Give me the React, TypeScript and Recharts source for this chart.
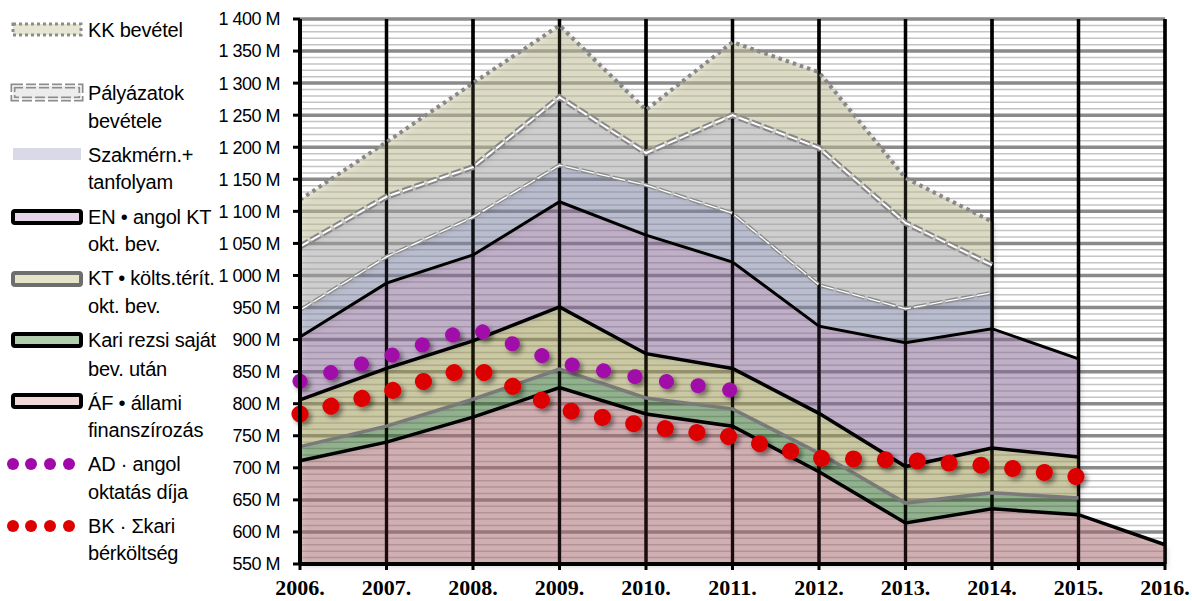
import React from "react";
import { ComposedChart, Area, Line, XAxis, YAxis, CartesianGrid, ReferenceLine } from "recharts";

// year categories
const years = ["2006.", "2007.", "2008.", "2009.", "2010.", "2011.", "2012.", "2013.", "2014.", "2015.", "2016."];

// cumulative levels (top edge of each band), in millions
const afTop = [711, 740, 779, 825, 784, 765, 694, 614, 636, 627, 580];
const kariTop = [733, 765, 807, 854, 809, 792, 723, 645, 661, 653, null];
const ktTop = [806, 855, 898, 951, 878, 855, 785, 702, 731, 717, null];
const enTop = [904, 988, 1032, 1115, 1063, 1021, 921, 895, 917, 870, null];
const szakTop = [946, 1029, 1091, 1172, 1141, 1097, 985, 948, 973, null, null];
const palyTop = [1045, 1123, 1169, 1278, 1191, 1250, 1199, 1082, 1016, null, null];
const kkTop = [1118, 1208, 1300, 1390, 1258, 1364, 1317, 1152, 1084, null, null];

// dotted series
const adValues = [835, 873, 918, 864, 839, 821, null, null, null, null, null];
const bkValues = [784, 818, 857, 792, 765, 748, 715, 712, 703, 686, null];

const yMin = 550;
const yMax = 1400;
const yTicks = [550, 600, 650, 700, 750, 800, 850, 900, 950, 1000, 1050, 1100, 1150, 1200, 1250, 1300, 1350, 1400];
const minorTicks: number[] = [];
for (let v = yMin; v <= yMax; v += 10) if (v % 50 !== 0) minorTicks.push(v);

const band = (lo: (number | null)[], hi: (number | null)[], i: number) =>
  lo[i] == null || hi[i] == null ? null : [lo[i], hi[i]];

const data = years.map((year, i) => ({
  year,
  af: afTop[i],
  kari: band(afTop, kariTop, i),
  kt: band(kariTop, ktTop, i),
  en: band(ktTop, enTop, i),
  szak: band(enTop, szakTop, i),
  paly: band(szakTop, palyTop, i),
  kk: band(palyTop, kkTop, i),
  afL: afTop[i],
  kariL: kariTop[i],
  ktL: ktTop[i],
  enL: enTop[i],
  szakL: szakTop[i],
  palyL: palyTop[i],
  kkL: kkTop[i],
  ad: adValues[i],
  bk: bkValues[i],
}));

const fmtY = (v: number) =>
  v >= 1000 ? `${Math.floor(v / 1000)} ${String(v % 1000).padStart(3, "0")} M` : `${v} M`;

const sans = "'Liberation Sans', Arial, sans-serif";

function Legend() {
  const t = (x: number, y: number, s: string) => (
    <text x={x} y={y + 7} fontFamily={sans} fontSize={20} letterSpacing={-0.2} fill="#000">
      {s}
    </text>
  );
  const box = (y: number, fill: string, stroke: string) => (
    <rect x={13} y={y} width={68} height={12} rx={2} fill={fill} stroke={stroke} strokeWidth={4} />
  );
  const dots = (y: number, color: string) =>
    [13, 31, 50, 69].map((x) => <circle key={x} cx={x} cy={y} r={6} fill={color} />);
  return (
    <svg width={300} height={601} style={{ position: "absolute", left: 0, top: 0 }}>
      <rect x={13} y={24} width={68} height={11} fill="#e6e6d5" stroke="#8c8c8c" strokeWidth={3} strokeDasharray="3 3" />
      {t(88, 30, "KK bevétel")}
      <rect x={13} y={86} width={68} height={13} fill="#ececec" stroke="#8c8c8c" strokeWidth={5} strokeDasharray="10 3" />
      <rect x={13} y={86} width={68} height={13} fill="none" stroke="#fff" strokeWidth={1.5} strokeDasharray="10 3" />
      {t(88, 93, "Pályázatok")}
      {t(88, 121, "bevétele")}
      <rect x={13} y={148} width={68} height={12} fill="#d9d9e8" />
      {t(88, 155, "Szakmérn.+")}
      {t(88, 182, "tanfolyam")}
      {box(211, "#e4d6e6", "#000")}
      {t(88, 217, "EN • angol KT")}
      {t(88, 244, "okt. bev.")}
      {box(273, "#e4e4c8", "#6e6e6e")}
      {t(88, 278, "KT • költs.térít.")}
      {t(88, 306, "okt. bev.")}
      {box(334, "#b2ccae", "#000")}
      {t(88, 340, "Kari rezsi saját")}
      {t(88, 369, "bev. után")}
      {box(395, "#f0d8d8", "#000")}
      {t(88, 403, "ÁF • állami")}
      {t(88, 430, "finanszírozás")}
      {dots(464, "#a00aa8")}
      {t(88, 464, "AD · angol")}
      {t(88, 492, "oktatás díja")}
      {dots(526, "#dd0000")}
      {t(88, 526, "BK · Σkari")}
      {t(88, 553, "bérköltség")}
    </svg>
  );
}

export default function App() {
  const areaProps = {
    type: "linear" as const,
    stroke: "none",
    fillOpacity: 0.45,
    isAnimationActive: false,
    filter: "url(#areaShadow)",
    activeDot: false,
  };
  const lineProps = {
    type: "linear" as const,
    dot: false,
    activeDot: false,
    isAnimationActive: false,
  };
  const minorGen = ({ offset }: any) =>
    minorTicks.map((v) => offset.top + (offset.height * (yMax - v)) / (yMax - yMin));
  return (
    <div style={{ position: "absolute", left: 0, top: 0, width: 1192, height: 601, background: "#fff" }}>
      <ComposedChart width={1192} height={601} data={data} margin={{ top: 19, right: 27, bottom: 0, left: 0 }}>
        <defs>
          <filter id="areaShadow" x="-10%" y="-10%" width="130%" height="130%">
            <feDropShadow dx={3} dy={3} stdDeviation={2.5} floodColor="#000" floodOpacity={0.3} />
          </filter>
          <filter id="dotShadow" x="-10%" y="-10%" width="130%" height="130%">
            <feDropShadow dx={3} dy={3} stdDeviation={2.5} floodColor="#000" floodOpacity={0.45} />
          </filter>
        </defs>
        <CartesianGrid vertical={false} stroke="#c4c4c4" strokeWidth={1.5} horizontalCoordinatesGenerator={minorGen} />
        <CartesianGrid vertical={false} stroke="#8a8a8a" strokeWidth={3.5} />
        <CartesianGrid horizontal={false} stroke="#000" strokeWidth={3.5} fill="none" />
        <XAxis
          dataKey="year"
          height={37}
          interval={0}
          axisLine={{ stroke: "#000", strokeWidth: 4 }}
          tickLine={{ stroke: "#000", strokeWidth: 3 }}
          tickSize={6}
          tickMargin={9}
          tick={{ fontFamily: "'Liberation Serif', serif", fontWeight: 700, fontSize: 22, fill: "#000" }}
        />
        <YAxis
          width={300}
          domain={[yMin, yMax]}
          ticks={yTicks}
          interval={0}
          tickFormatter={fmtY}
          axisLine={{ stroke: "#000", strokeWidth: 4 }}
          tickLine={{ stroke: "#000", strokeWidth: 3 }}
          tickSize={7}
          tickMargin={13}
          tick={{ fontFamily: sans, fontSize: 18, letterSpacing: -0.5, fill: "#000" }}
        />
        <Area {...areaProps} dataKey="af" fill="#b16f73" />
        <Area {...areaProps} dataKey="kari" fill="#37732c" />
        <Area {...areaProps} dataKey="kt" fill="#a6a258" />
        <Area {...areaProps} dataKey="en" fill="#906f9f" />
        <Area {...areaProps} dataKey="szak" fill="#858bad" />
        <Area {...areaProps} dataKey="paly" fill="#adadad" />
        <Area {...areaProps} dataKey="kk" fill="#c7c59b" />

        {years.map((y) => (
          <ReferenceLine key={y} x={y} stroke="#000" strokeOpacity={0.75} strokeWidth={3} />
        ))}

        <Line {...lineProps} dataKey="afL" stroke="#000" strokeWidth={3.5} />
        <Line {...lineProps} dataKey="kariL" stroke="#7a7a7a" strokeWidth={3.5} />
        <Line {...lineProps} dataKey="ktL" stroke="#000" strokeWidth={3.5} />
        <Line {...lineProps} dataKey="enL" stroke="#000" strokeWidth={3} />
        <Line {...lineProps} dataKey="szakL" stroke="#8c8c8c" strokeWidth={4} strokeDasharray="13 3" />
        <Line {...lineProps} dataKey="szakL" stroke="#fff" strokeWidth={1.3} strokeDasharray="13 3" />
        <Line {...lineProps} dataKey="palyL" stroke="#888" strokeWidth={6} strokeDasharray="10 3" />
        <Line {...lineProps} dataKey="palyL" stroke="#fff" strokeWidth={2} strokeDasharray="10 3" />
        <Line {...lineProps} dataKey="kkL" stroke="#888" strokeWidth={4} strokeDasharray="3.5 4" />

        <Line
          {...lineProps}
          dataKey="ad"
          stroke="#a00aa8"
          strokeWidth={15}
          strokeLinecap="round"
          strokeDasharray="0.1 31.8"
          filter="url(#dotShadow)"
        />
        <Line
          {...lineProps}
          dataKey="bk"
          stroke="#dd0000"
          strokeWidth={17}
          strokeLinecap="round"
          strokeDasharray="0.1 31.8"
          filter="url(#dotShadow)"
        />
      </ComposedChart>
      <Legend />
    </div>
  );
}
